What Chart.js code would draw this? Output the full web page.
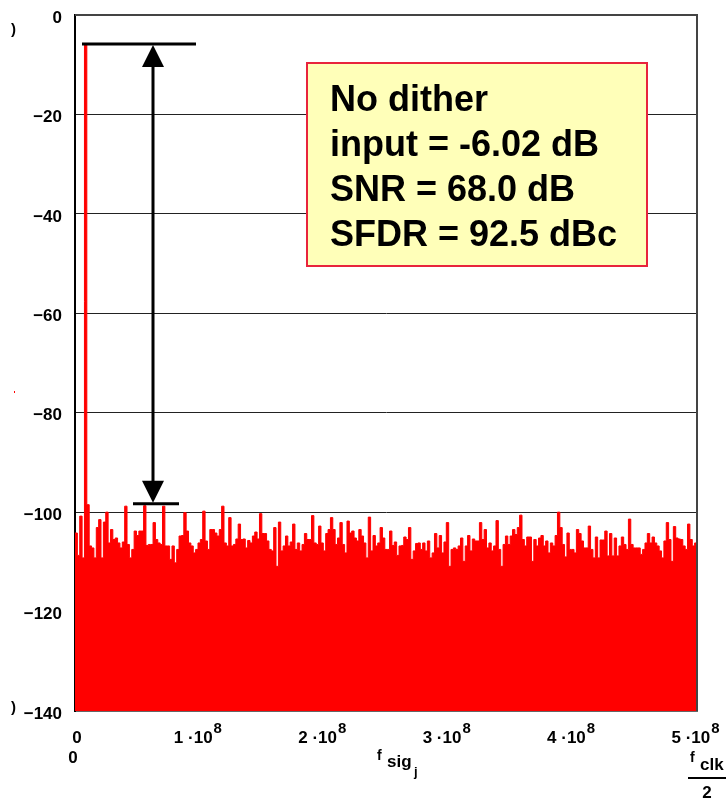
<!DOCTYPE html>
<html>
<head>
<meta charset="utf-8">
<script src="https://cdn.jsdelivr.net/npm/chart.js@4.4.1/dist/chart.umd.min.js"></script>
<style>
  html, body { margin: 0; padding: 0; background: #fff; }
</style>
</head>
<body>
<canvas id="spectrum" width="726" height="800"></canvas>
<script>
// FFT of the ADC output, 0 .. fclk/2, in dB
const fHalf = 5e8;
const inputLevel = -6.02;
const sfdr = 92.5;

const spectrumQ1 = [
  -104.2, -108.7, -100.8, -109.2, -6.02, -98.5, -106.8, -107.2, -109.2, -103.1,
  -101.5, -109.2, -102.0, -100.0, -106.2, -103.5, -105.5, -105.2, -106.2, -107.2,
  -106.0, -98.8, -106.5, -109.2, -107.5, -103.8, -104.7, -103.8, -103.8, -98.7,
  -106.7, -106.5, -106.5, -102.1, -105.5, -106.2, -106.5, -98.8, -106.8, -106.8,
  -109.5, -106.8, -110.2, -107.5, -104.8, -104.7, -100.1, -103.8, -106.2, -106.8,
  -108.2, -107.5, -106.2, -105.5, -99.8, -105.8, -107.5, -103.5, -103.5, -104.2,
  -104.8, -103.5, -98.8, -106.2, -106.8, -101.1, -106.8, -106.5
];
const spectrumQ2 = [
  -105.4, -102.4, -105.5, -105.4, -107.2, -105.7, -106.2, -104.8, -104.0, -105.4,
  -100.3, -104.3, -104.3, -105.8, -107.5, -107.8, -103.1, -110.9, -102.0, -107.8,
  -106.8, -104.8, -106.8, -106.0, -102.4, -107.5, -106.2, -107.8, -106.5, -104.3,
  -105.5, -105.5, -100.7, -106.2, -106.5, -102.8, -106.2, -107.8, -104.3, -103.5,
  -101.1, -103.5, -106.5, -105.2, -102.1, -106.5, -108.2, -101.8, -104.2, -103.8,
  -105.2, -105.8, -103.5, -104.8, -106.2, -109.2, -101.0, -107.8, -104.7, -106.8,
  -106.2, -103.1, -105.2, -107.5, -107.5, -103.8
];
const spectrumQ3 = [
  -106.7, -106.0, -108.7, -106.8, -106.7, -105.0, -105.5, -103.1, -109.5, -107.8,
  -106.3, -106.2, -107.5, -106.2, -107.8, -105.8, -109.2, -108.2, -104.3, -107.2,
  -104.7, -108.2, -106.0, -102.1, -110.9, -107.5, -107.2, -107.5, -106.8, -105.2,
  -109.9, -106.8, -104.7, -107.8, -105.4, -105.8, -105.8, -102.1, -105.5, -103.5,
  -107.2, -106.2, -107.8, -106.8, -101.7, -107.5, -110.9, -106.5, -104.8, -106.5,
  -104.8, -103.5, -104.5, -103.1, -100.6, -105.5, -106.8, -105.0, -105.0, -109.9,
  -105.5, -106.8, -105.2, -104.7, -106.8, -105.8
];
const spectrumQ4 = [
  -108.2, -106.2, -106.8, -104.7, -100.0, -103.1, -106.5, -109.0, -104.2, -107.5,
  -107.5, -108.2, -103.5, -104.3, -105.8, -107.2, -107.2, -102.8, -107.5, -109.2,
  -105.0, -109.2, -105.6, -105.6, -103.8, -108.8, -104.3, -108.8, -105.2, -108.8,
  -106.8, -105.0, -106.5, -107.5, -101.4, -106.5, -107.2, -107.2, -107.2, -108.5,
  -107.5, -106.2, -104.3, -106.2, -105.0, -106.2, -106.8, -107.8, -109.2, -105.8,
  -102.1, -105.5, -109.9, -102.9, -105.2, -105.4, -105.5, -106.8, -107.5, -102.4,
  -105.5, -106.8, -106.2, -106.2
];

const xTickValues = [0, 1e8, 2e8, 3e8, 4e8, 5e8];
const xTickMantissas = ['0', '1', '2', '3', '4', '5'];
const noteLines = ['No dither', 'input = -6.02 dB', 'SNR = 68.0 dB', 'SFDR = 92.5 dBc'];

const FONT = "'Liberation Sans', Arial, sans-serif";

const spectrum = [...spectrumQ1, ...spectrumQ2, ...spectrumQ3, ...spectrumQ4];
const binStep = fHalf / (spectrum.length - 1);
const points = spectrum.map((v, i) => ({ x: i * binStep, y: v }));

const overlay = {
  id: 'overlay',
  afterDatasetsDraw(chart) {
    const { ctx, chartArea: a, scales: { y } } = chart;
    ctx.save();

    // top and right edges of the plot frame
    ctx.strokeStyle = '#444';
    ctx.lineWidth = 2;
    ctx.beginPath();
    ctx.moveTo(a.left, a.top);
    ctx.lineTo(a.right, a.top);
    ctx.lineTo(a.right, a.bottom);
    ctx.stroke();

    // SFDR marker: carrier level down to the largest spur
    const yTone = y.getPixelForValue(inputLevel) - 1;
    const ySpur = y.getPixelForValue(inputLevel - sfdr) - 1;
    const xArrow = a.left + 78;
    ctx.strokeStyle = '#000';
    ctx.fillStyle = '#000';
    ctx.lineWidth = 3;
    ctx.beginPath();
    ctx.moveTo(a.left + 7, yTone);
    ctx.lineTo(a.left + 121, yTone);
    ctx.moveTo(a.left + 58, ySpur);
    ctx.lineTo(a.left + 104, ySpur);
    ctx.moveTo(xArrow, yTone + 20);
    ctx.lineTo(xArrow, ySpur - 20);
    ctx.stroke();
    ctx.beginPath();
    ctx.moveTo(xArrow, yTone + 1);
    ctx.lineTo(xArrow - 11, yTone + 23);
    ctx.lineTo(xArrow + 11, yTone + 23);
    ctx.closePath();
    ctx.fill();
    ctx.beginPath();
    ctx.moveTo(xArrow, ySpur - 1);
    ctx.lineTo(xArrow - 11, ySpur - 23);
    ctx.lineTo(xArrow + 11, ySpur - 23);
    ctx.closePath();
    ctx.fill();

    // result box
    const bx = a.left + 232, by = a.top + 48;
    ctx.fillStyle = '#ffffb9';
    ctx.fillRect(bx, by, 340, 203);
    ctx.strokeStyle = '#e8243c';
    ctx.lineWidth = 2;
    ctx.strokeRect(bx, by, 340, 203);
    ctx.fillStyle = '#000';
    ctx.font = `bold 36px ${FONT}`;
    ctx.textBaseline = 'alphabetic';
    ctx.textAlign = 'left';
    noteLines.forEach((t, i) => ctx.fillText(t, bx + 23, by + 48 + i * 45));

    ctx.restore();
  },
  afterDraw(chart) {
    const { ctx, scales: { x } } = chart;
    ctx.save();
    ctx.fillStyle = '#000';
    ctx.textBaseline = 'alphabetic';

    // x tick labels, written as mantissa times 10^8
    xTickValues.forEach((v, i) => {
      const px = x.getPixelForValue(v);
      if (xTickMantissas[i] === '0') {
        ctx.font = `bold 17px ${FONT}`;
        ctx.textAlign = 'center';
        ctx.fillText('0', px + 2, 743);
        return;
      }
      const main = xTickMantissas[i] + ' \u00b710';
      ctx.font = `bold 17px ${FONT}`;
      const wMain = ctx.measureText(main).width;
      ctx.font = `bold 15px ${FONT}`;
      const wSup = ctx.measureText('8').width;
      const x0 = px - 2 - (wMain + wSup) / 2;
      ctx.textAlign = 'left';
      ctx.font = `bold 17px ${FONT}`;
      ctx.fillText(main, x0, 743);
      ctx.font = `bold 15px ${FONT}`;
      ctx.fillText('8', x0 + wMain + 1, 733);
    });

    // second row: axis range start and axis name
    ctx.textAlign = 'center';
    ctx.font = `bold 17px ${FONT}`;
    ctx.fillText('0', 73, 763);

    ctx.textAlign = 'left';
    ctx.font = `bold 14px ${FONT}`;
    ctx.fillText('f', 377, 760);
    ctx.font = `bold 17px ${FONT}`;
    ctx.fillText('sig', 387, 767);
    ctx.font = `bold 13px ${FONT}`;
    ctx.fillText('j', 414, 776);

    // right end: fclk / 2
    ctx.font = `bold 14px ${FONT}`;
    ctx.fillText('f', 690, 762);
    ctx.font = `bold 17px ${FONT}`;
    ctx.fillText('clk', 700, 770);
    ctx.fillRect(688, 777, 40, 2);
    ctx.textAlign = 'center';
    ctx.fillText('2', 707, 798);

    // clipped glyphs at the left edge
    ctx.textAlign = 'left';
    ctx.font = `bold 15px ${FONT}`;
    ctx.fillText(')', 11, 34);
    ctx.fillText(')', 11, 712);
    ctx.fillStyle = '#ff0000';
    ctx.fillRect(14, 391, 1, 2);
    ctx.restore();
  }
};

new Chart(document.getElementById('spectrum').getContext('2d'), {
  type: 'line',
  data: {
    datasets: [{
      data: points,
      stepped: true,
      borderColor: '#ff0000',
      backgroundColor: '#ff0000',
      borderWidth: 1,
      pointRadius: 0,
      fill: 'start'
    }]
  },
  options: {
    responsive: false,
    animation: false,
    layout: { padding: { top: 15, right: 29, bottom: 0, left: 0 } },
    plugins: { legend: { display: false }, tooltip: { enabled: false } },
    scales: {
      x: {
        type: 'linear',
        min: 0,
        max: fHalf,
        grid: { display: false },
        border: { display: true, color: '#666', width: 2 },
        ticks: { display: false },
        afterFit(scale) { scale.height = 89; }
      },
      y: {
        min: -140,
        max: 0,
        grid: { color: '#222', lineWidth: 1, drawTicks: false },
        border: { color: '#000', width: 2 },
        ticks: {
          stepSize: 20,
          color: '#000',
          padding: 13,
          labelOffset: 3,
          font: { family: FONT, weight: 'bold', size: 17 },
          callback: v => String(v).replace('-', '\u2212')
        },
        afterFit(scale) {
          scale.width = 75;
          scale.paddingTop = 0;
          scale.paddingBottom = 0;
        }
      }
    }
  },
  plugins: [overlay]
});
</script>
</body>
</html>
